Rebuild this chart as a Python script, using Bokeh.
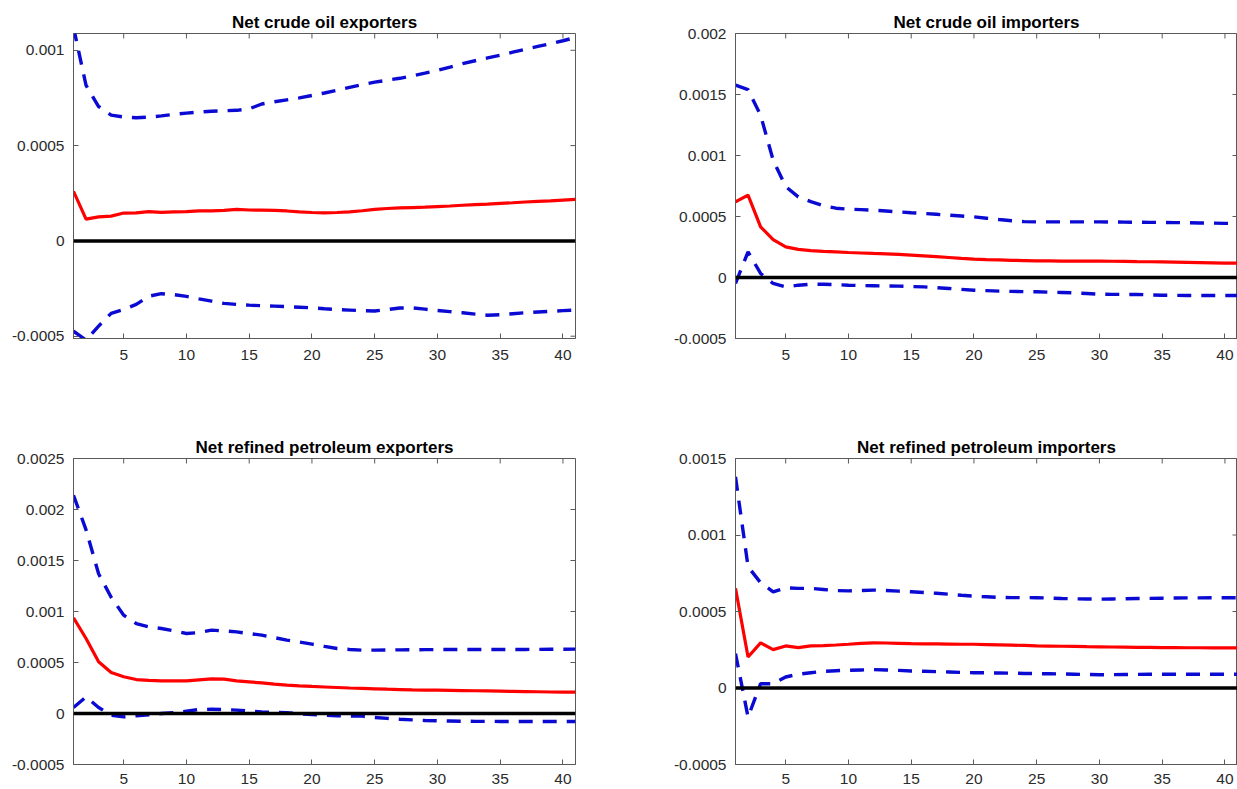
import math

from bokeh.plotting import figure
from bokeh.layouts import column, row
from bokeh.models import FixedTicker, Span, Range1d
from bokeh.embed import file_html
from bokeh.resources import INLINE

# Horizon (periods after the shock)
horizon = list(range(1, 42))

# Net crude oil exporters
crude_exp_irf = [0.000260, 0.000114, 0.000126, 0.000130, 0.000146, 0.000147, 0.000154, 0.000150,
                 0.000152, 0.000154, 0.000157, 0.000157, 0.000160, 0.000165, 0.000162, 0.000161,
                 0.000160, 0.000157, 0.000152, 0.000149, 0.000147, 0.000149, 0.000152, 0.000158,
                 0.000165, 0.000170, 0.000173, 0.000175, 0.000177, 0.000180, 0.000183, 0.000187,
                 0.000190, 0.000193, 0.000197, 0.000200, 0.000204, 0.000207, 0.000210, 0.000214,
                 0.000218]
crude_exp_upper = [0.001120, 0.000816, 0.000705, 0.000660, 0.000650, 0.000646, 0.000649, 0.000656,
                   0.000664, 0.000670, 0.000676, 0.000680, 0.000683, 0.000685, 0.000693, 0.000718,
                   0.000730, 0.000740, 0.000750, 0.000763, 0.000776, 0.000790, 0.000805, 0.000820,
                   0.000833, 0.000843, 0.000853, 0.000866, 0.000880, 0.000895, 0.000912, 0.000930,
                   0.000945, 0.000960, 0.000974, 0.000990, 0.001005, 0.001020, 0.001035, 0.001050,
                   0.001067]
crude_exp_lower = [-0.000474, -0.000520, -0.000447, -0.000380, -0.000360, -0.000333, -0.000290, -0.000277,
                   -0.000282, -0.000291, -0.000304, -0.000316, -0.000328, -0.000333, -0.000337, -0.000340,
                   -0.000342, -0.000345, -0.000348, -0.000351, -0.000356, -0.000360, -0.000363, -0.000366,
                   -0.000368, -0.000360, -0.000352, -0.000351, -0.000358, -0.000365, -0.000371, -0.000377,
                   -0.000384, -0.000390, -0.000387, -0.000382, -0.000377, -0.000373, -0.000369, -0.000366,
                   -0.000363]

# Net crude oil importers
crude_imp_irf = [0.000620, 0.000675, 0.000415, 0.000311, 0.000251, 0.000230, 0.000220, 0.000214,
                 0.000210, 0.000205, 0.000201, 0.000197, 0.000194, 0.000190, 0.000184, 0.000178,
                 0.000171, 0.000164, 0.000157, 0.000151, 0.000147, 0.000144, 0.000141, 0.000139,
                 0.000137, 0.000136, 0.000135, 0.000135, 0.000134, 0.000134, 0.000133, 0.000132,
                 0.000130, 0.000129, 0.000128, 0.000126, 0.000124, 0.000122, 0.000120, 0.000118,
                 0.000117]
crude_imp_upper = [0.001577, 0.001540, 0.001330, 0.000962, 0.000745, 0.000661, 0.000622, 0.000588,
                   0.000568, 0.000560, 0.000556, 0.000552, 0.000545, 0.000538, 0.000531, 0.000525,
                   0.000518, 0.000511, 0.000504, 0.000497, 0.000486, 0.000475, 0.000465, 0.000458,
                   0.000456, 0.000456, 0.000456, 0.000456, 0.000456, 0.000456, 0.000455, 0.000454,
                   0.000453, 0.000452, 0.000451, 0.000450, 0.000449, 0.000447, 0.000446, 0.000444,
                   0.000443]
crude_imp_lower = [-0.000049, 0.000210, 0.000033, -0.000049, -0.000077, -0.000063, -0.000055, -0.000055,
                   -0.000058, -0.000063, -0.000066, -0.000068, -0.000070, -0.000071, -0.000074, -0.000077,
                   -0.000083, -0.000090, -0.000097, -0.000104, -0.000108, -0.000112, -0.000114, -0.000116,
                   -0.000117, -0.000120, -0.000123, -0.000126, -0.000131, -0.000137, -0.000138, -0.000139,
                   -0.000139, -0.000142, -0.000145, -0.000146, -0.000147, -0.000147, -0.000148, -0.000148,
                   -0.000148]

# Net refined petroleum exporters
refined_exp_irf = [0.000938, 0.000735, 0.000507, 0.000402, 0.000360, 0.000333, 0.000324, 0.000320,
                   0.000319, 0.000320, 0.000330, 0.000340, 0.000337, 0.000320, 0.000310, 0.000300,
                   0.000288, 0.000278, 0.000271, 0.000265, 0.000260, 0.000255, 0.000250, 0.000246,
                   0.000242, 0.000238, 0.000235, 0.000232, 0.000230, 0.000229, 0.000227, 0.000225,
                   0.000223, 0.000221, 0.000219, 0.000217, 0.000215, 0.000213, 0.000211, 0.000210,
                   0.000209]
refined_exp_upper = [0.002140, 0.001800, 0.001370, 0.001140, 0.000964, 0.000882, 0.000850, 0.000833,
                     0.000810, 0.000784, 0.000794, 0.000817, 0.000810, 0.000800, 0.000784, 0.000768,
                     0.000744, 0.000719, 0.000700, 0.000680, 0.000658, 0.000637, 0.000628, 0.000621,
                     0.000621, 0.000622, 0.000624, 0.000625, 0.000626, 0.000627, 0.000627, 0.000627,
                     0.000627, 0.000627, 0.000627, 0.000628, 0.000628, 0.000629, 0.000630, 0.000630,
                     0.000631]
refined_exp_lower = [0.000059, 0.000163, 0.000059, -0.000016, -0.000033, -0.000023, -0.000013, 0.000000,
                     0.000007, 0.000023, 0.000039, 0.000042, 0.000039, 0.000033, 0.000023, 0.000016,
                     0.000011, 0.000007, -0.000002, -0.000010, -0.000017, -0.000023, -0.000025, -0.000026,
                     -0.000039, -0.000048, -0.000056, -0.000062, -0.000068, -0.000072, -0.000074, -0.000076,
                     -0.000077, -0.000077, -0.000078, -0.000078, -0.000078, -0.000078, -0.000078, -0.000078,
                     -0.000078]

# Net refined petroleum importers
refined_imp_irf = [0.000651, 0.000203, 0.000295, 0.000251, 0.000275, 0.000264, 0.000275, 0.000277,
                   0.000281, 0.000286, 0.000292, 0.000295, 0.000294, 0.000292, 0.000290, 0.000289,
                   0.000288, 0.000287, 0.000286, 0.000286, 0.000284, 0.000282, 0.000280, 0.000278,
                   0.000275, 0.000274, 0.000273, 0.000272, 0.000270, 0.000269, 0.000268, 0.000267,
                   0.000266, 0.000265, 0.000264, 0.000264, 0.000263, 0.000263, 0.000262, 0.000262,
                   0.000262]
refined_imp_upper = [0.001380, 0.000793, 0.000688, 0.000629, 0.000655, 0.000651, 0.000651, 0.000644,
                     0.000637, 0.000635, 0.000637, 0.000640, 0.000637, 0.000633, 0.000629, 0.000624,
                     0.000619, 0.000613, 0.000606, 0.000600, 0.000596, 0.000592, 0.000591, 0.000591,
                     0.000590, 0.000588, 0.000585, 0.000583, 0.000582, 0.000581, 0.000582, 0.000583,
                     0.000585, 0.000586, 0.000587, 0.000588, 0.000589, 0.000589, 0.000590, 0.000590,
                     0.000590]
refined_imp_lower = [0.000225, -0.000190, 0.000028, 0.000028, 0.000072, 0.000090, 0.000100, 0.000109,
                     0.000113, 0.000116, 0.000118, 0.000120, 0.000118, 0.000115, 0.000111, 0.000109,
                     0.000107, 0.000105, 0.000102, 0.000100, 0.000099, 0.000098, 0.000097, 0.000095,
                     0.000094, 0.000093, 0.000092, 0.000090, 0.000088, 0.000087, 0.000087, 0.000088,
                     0.000089, 0.000090, 0.000090, 0.000090, 0.000090, 0.000090, 0.000090, 0.000090,
                     0.000090]

x_ticks = [5, 10, 15, 20, 25, 30, 35, 40]

AXIS_COLOR = "#5a5a5a"
LABEL_COLOR = "#2b2b2b"
FONT = "Liberation Sans"
TICK_FONT = "15.5px"
BAND_COLOR = "#0a0ad2"
DASH = "14 10"


def style_axis(axis, ticks, standoff):
    axis.ticker = FixedTicker(ticks=ticks, minor_ticks=[])
    axis.major_tick_in = 5
    axis.major_tick_out = 0
    axis.major_tick_line_color = AXIS_COLOR
    axis.minor_tick_line_color = None
    axis.axis_line_color = AXIS_COLOR
    axis.major_label_overrides = {t: format(t, "g") for t in ticks}
    axis.major_label_text_font = FONT
    axis.major_label_text_font_size = TICK_FONT
    axis.major_label_text_color = LABEL_COLOR
    axis.major_label_standoff = standoff


def panel(title, irf, lower, upper, y_range, y_ticks, width, height, borders, x_standoff):
    left, right, top, bottom = borders
    y0, y1 = y_range
    p = figure(width=width, height=height, output_backend="svg", toolbar_location=None,
               x_range=Range1d(1, 41), y_range=Range1d(y0, y1),
               min_border_left=left, min_border_right=right,
               min_border_top=top, min_border_bottom=bottom)
    p.grid.visible = False
    p.background_fill_color = "white"
    p.border_fill_color = "white"
    p.outline_line_color = AXIS_COLOR
    p.outline_line_width = 1

    p.title.text = title
    p.title.align = "center"
    p.title.text_font = FONT
    p.title.text_font_size = "17px"
    p.title.text_font_style = "bold"
    p.title.text_color = "black"
    p.title.standoff = 3

    style_axis(p.xaxis[0], x_ticks, x_standoff)
    style_axis(p.yaxis[0], y_ticks, 9)

    # Box ticks on the top and right edges: short dashes centred on the
    # frame edge, the outer half is clipped away by the frame.
    p.scatter(x_ticks, [y1] * len(x_ticks), marker="dash", size=10,
              angle=math.pi / 2, line_color=AXIS_COLOR, line_width=1)
    p.scatter([41] * len(y_ticks), y_ticks, marker="dash", size=10,
              line_color=AXIS_COLOR, line_width=1)

    p.add_layout(Span(location=0, dimension="width", line_color="black", line_width=3.5))
    p.line(horizon, lower, line_color=BAND_COLOR, line_width=3.4, line_dash=DASH)
    p.line(horizon, upper, line_color=BAND_COLOR, line_width=3.4, line_dash=DASH)
    p.line(horizon, irf, line_color="#ff0000", line_width=3.2)
    return p


p1 = panel("Net crude oil exporters", crude_exp_irf, crude_exp_lower, crude_exp_upper,
           (-0.000512, 0.001088), [-0.0005, 0, 0.0005, 0.001], 618, 396, (73, 43, 33, 58), 11)
p2 = panel("Net crude oil importers", crude_imp_irf, crude_imp_lower, crude_imp_upper,
           (-0.0005, 0.002), [-0.0005, 0, 0.0005, 0.001, 0.0015, 0.002], 619, 396, (117, 0, 33, 58), 11)
p3 = panel("Net refined petroleum exporters", refined_exp_irf, refined_exp_lower, refined_exp_upper,
           (-0.0005, 0.0025), [-0.0005, 0, 0.0005, 0.001, 0.0015, 0.002, 0.0025], 618, 393,
           (73, 43, 62, 25), 9)
p4 = panel("Net refined petroleum importers", refined_imp_irf, refined_imp_lower, refined_imp_upper,
           (-0.0005, 0.0015), [-0.0005, 0, 0.0005, 0.001, 0.0015], 619, 393, (117, 0, 62, 25), 9)

layout = column(row(p1, p2), row(p3, p4))

open("out.html", "w").write(file_html(layout, INLINE))
